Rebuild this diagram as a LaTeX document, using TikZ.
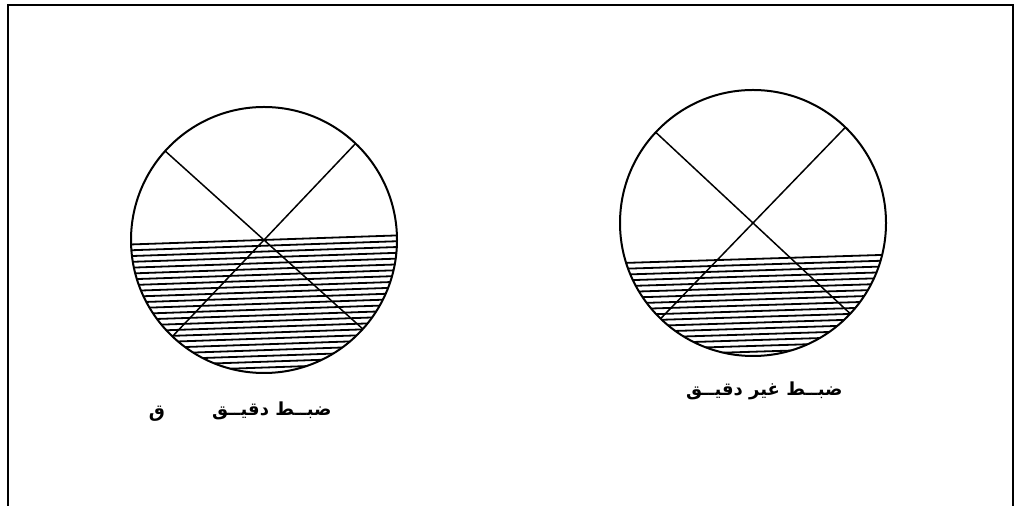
\documentclass[tikz,border=0pt]{standalone}
\usepackage{fontspec}
\newfontfamily\arabicfont[Script=Arabic]{DejaVu Sans}
\TeXXeTstate=1
\usetikzlibrary{calc}
\tikzset{
	arabiclabel/.style={font=\arabicfont\bfseries\fontsize{9}{11}\selectfont, inner sep=0pt}
}
\tikzset{
	hatchline/.style={line width=0.9pt}
}
\tikzset{
	diameter/.style={line width=0.75pt}
}
\newcommand{\rtl}[1]{\beginR #1\endR}

\begin{document}
\begin{tikzpicture}[x=0.5pt, y=-0.5pt]
      \useasboundingbox (0,0) rectangle (1017,506);
      \draw[line width=1pt] (8,506) -- (8,5) -- (1013,5) -- (1013,506);
      % left level: hatching starts at the centre
      \coordinate (cl) at (264,240);
      \begin{scope}
        \clip (cl) circle (133);
        \foreach \k in {0,...,23}
          \draw[hatchline] ($(cl)+(-140,4.7+\k*5.8)$) -- ++(280,-9.5);
      \end{scope}
      \draw[diameter] (cl) ++(-138:133) -- ++(42:266);
      \draw[diameter] (cl) ++(-46.5:133) -- ++(133.5:266);
      \draw[line width=1pt] (cl) circle (133);
      % right level: hatching below the centre
      \coordinate (cr) at (753,223);
      \coordinate (hr) at (753,259);
      \begin{scope}
        \clip (cr) circle (133);
        \foreach \k in {0,...,17}
          \draw[hatchline] ($(hr)+(-140,4.3+\k*5.8)$) -- ++(280,-8.7);
      \end{scope}
      \draw[diameter] (cr) ++(-137:133) -- ++(43:266);
      \draw[diameter] (cr) ++(-46:133) -- ++(134:266);
      \draw[line width=1pt] (cr) circle (133);
      % labels
      \node[arabiclabel, anchor=east] (lblleft) at (332,411) {\rtl{ضبــط دقيــق}};
      \node[arabiclabel] (lblq) at (157,414) {\rtl{ق}};
      \node[arabiclabel, anchor=east] (lblright) at (843,391) {\rtl{ضبــط غير دقيــق}};
\end{tikzpicture}
\end{document}
